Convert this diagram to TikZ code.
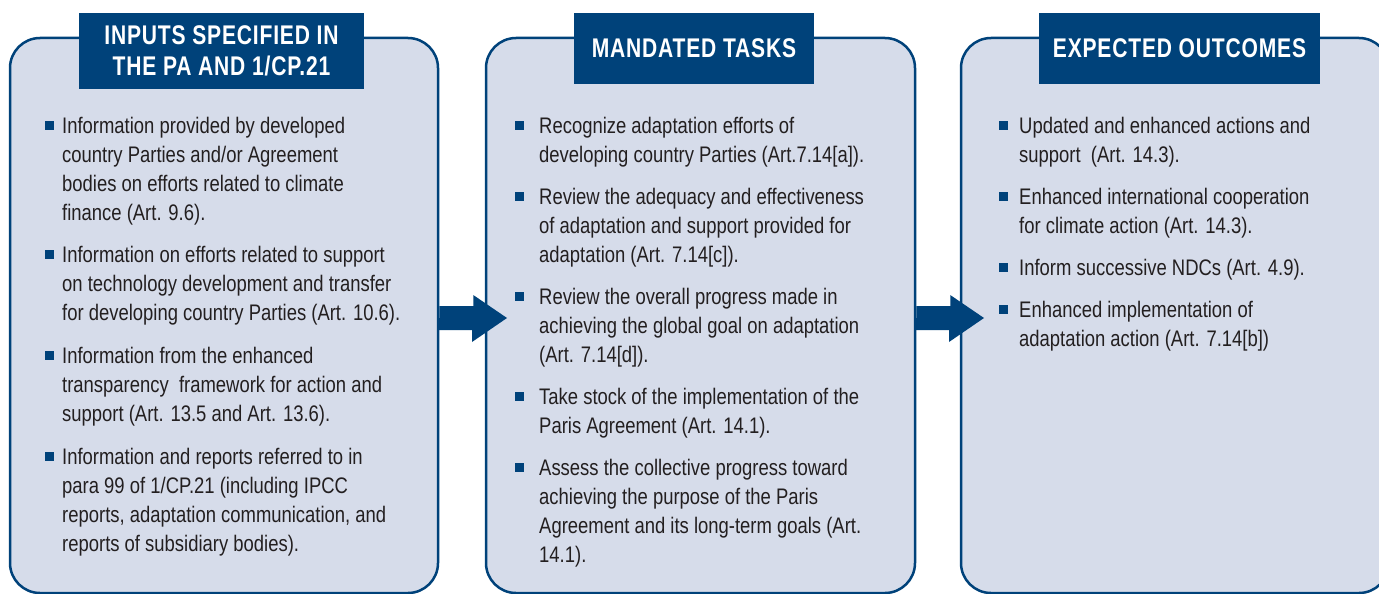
\documentclass[tikz,border=0pt]{standalone}
\usepackage{fontspec}
\setmainfont{Liberation Sans}[FakeStretch=0.82]
\newfontfamily\hdfont{Liberation Sans}[FakeStretch=0.78,LetterSpace=3]
\definecolor{navy}{RGB}{0,66,122}
\definecolor{panelfill}{RGB}{214,220,234}
\definecolor{bodytext}{RGB}{35,31,32}
\tikzset{
  panel/.style={draw=navy, line width=2.5pt, fill=panelfill, rounded corners=30pt, inner sep=0pt},
  hdr/.style={fill=navy, text=white, inner sep=0pt, align=center,
    font=\hdfont\bfseries\fontsize{27}{31}\selectfont},
  txt/.style={anchor=base west, align=left, inner sep=0pt, text=bodytext,
    font=\fontsize{22.5}{29}\selectfont},
  bul/.style={fill=navy, minimum size=9pt, inner sep=0pt},
  blockarrow/.style={fill=navy},
}
% #1 name, #2 bullet x, #3 text x, #4 first baseline y, #5 number of lines, #6 text
\newcommand\bitem[6]{%
  \node[txt] (#1) at (#3,{#4+(#5-1)*29}) {#6};
  \node[bul] (#1b) at ({#2},{#4-8}) {};
}
\begin{document}
\begin{tikzpicture}[x=1pt,y=-1pt]
\useasboundingbox (0,0) rectangle (1379,594);
\clip (0,0) rectangle (1379,594);
% panels
\node[panel, minimum width=428, minimum height=555] (p1) at (224,315.5) {};
\node[panel, minimum width=429, minimum height=555] (p2) at (700.5,315.5) {};
\node[panel, minimum width=428, minimum height=555] (p3) at (1175,315.5) {};
% headers
\node[hdr, minimum width=285, minimum height=76] (h1) at (221.5,51) {INPUTS SPECIFIED IN\\THE PA AND 1/CP.21};
\node[hdr, minimum width=240, minimum height=71] (h2) at (694,48.5) {MANDATED TASKS};
\node[hdr, minimum width=281, minimum height=71] (h3) at (1179.5,48.5) {EXPECTED OUTCOMES};
% arrows
\coordinate (a1e) at (507,318);
\coordinate (a2e) at (984,318);
\fill[blockarrow] (p1.east |- a1e) -- ++(0,-12) -- ++(34,0) -- ++(0,-11) -- (a1e) -- ++(-35,24) -- ++(0,-12) -- ++(-34,0) -- cycle;
\fill[blockarrow] (p2.east |- a2e) -- ++(0,-12) -- ++(34,0) -- ++(0,-11) -- (a2e) -- ++(-35,24) -- ++(0,-12) -- ++(-34,0) -- cycle;
% panel 1 items
\bitem{t11}{49.5}{62}{133}{4}{Information provided by developed\\country Parties and/or Agreement\\bodies on efforts related to climate\\finance (Art. 9.6).}
\bitem{t12}{49.5}{62}{262}{3}{Information on efforts related to support\\on technology development and transfer\\for developing country Parties (Art. 10.6).}
\bitem{t13}{49.5}{62}{363}{3}{Information from the enhanced\\transparency\ \ framework for action and\\support (Art. 13.5 and Art. 13.6).}
\bitem{t14}{49.5}{62}{464}{4}{Information and reports referred to in\\para 99 of 1/CP.21 (including IPCC\\reports, adaptation communication, and\\reports of subsidiary bodies).}
% panel 2 items
\bitem{t21}{519.5}{539}{133}{2}{Recognize adaptation efforts of\\developing country Parties (Art.7.14[a]).}
\bitem{t22}{519.5}{539}{204}{3}{Review the adequacy and effectiveness\\of adaptation and support provided for\\adaptation (Art. 7.14[c]).}
\bitem{t23}{519.5}{539}{304}{3}{Review the overall progress made in\\achieving the global goal on adaptation\\(Art. 7.14[d]).}
\bitem{t24}{519.5}{539}{404}{2}{Take stock of the implementation of the\\Paris Agreement (Art. 14.1).}
\bitem{t25}{519.5}{539}{475}{4}{Assess the collective progress toward\\achieving the purpose of the Paris\\Agreement and its long-term goals (Art.\\14.1).}
% panel 3 items
\bitem{t31}{1003}{1019}{133}{2}{Updated and enhanced actions and\\support\ \ (Art. 14.3).}
\bitem{t32}{1003}{1019}{204}{2}{Enhanced international cooperation\\for climate action (Art. 14.3).}
\bitem{t33}{1003}{1019}{275}{1}{Inform successive NDCs (Art. 4.9).}
\bitem{t34}{1003}{1019}{317}{2}{Enhanced implementation of\\adaptation action (Art. 7.14[b])}
\end{tikzpicture}
\end{document}
